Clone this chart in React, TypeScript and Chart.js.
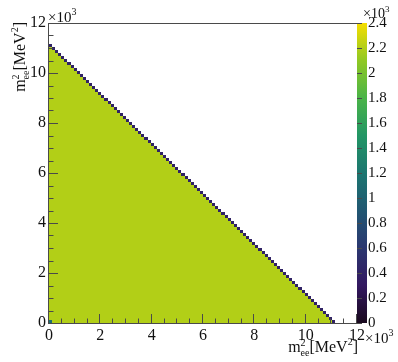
import React, { useEffect, useRef } from "react";
import { Chart, registerables } from "chart.js";

Chart.register(...registerables);

// Axis ranges (×10³ MeV²) and tick values
const AXIS_MIN = 0;
const AXIS_MAX = 12;
const X_TICK_STEP = 2;
const X_MINOR_STEP = 0.5;
const Y_TICK_STEP = 2;
// Colour (z) axis, entries per bin in units of 10³
const Z_MIN = 0;
const Z_MAX = 2.4;
const Z_TICK_LABELS = ["0", "0.2", "0.4", "0.6", "0.8", "1", "1.2", "1.4", "1.6", "1.8", "2", "2.2", "2.4"];

// Histogram description
const BINS_PER_AXIS = 100; // 100 x 100 bins over 0..12
const KINEMATIC_LIMIT = 11.1; // m²(ee) + m²(ee) upper boundary, ×10³ MeV²
const BULK_ENTRIES = 2.2; // typical bin content inside the triangle (×10³)
const EDGE_ENTRIES = 0.4; // partially covered bins on the diagonal (×10³)
const ORIGIN_ENTRIES = 1.1; // corner bin at the origin (×10³)

// ROOT kViridis palette stops
const VIRIDIS_R = [26, 51, 43, 33, 28, 35, 74, 144, 246];
const VIRIDIS_G = [9, 24, 55, 87, 118, 150, 180, 200, 222];
const VIRIDIS_B = [30, 96, 112, 114, 112, 101, 72, 35, 0];

const FONT = "\"Liberation Serif\", \"Times New Roman\", serif";
const TEXT_COLOR = "#111";
const FRAME_COLOR = "#4a4a4a";

function paletteColor(v: number): string {
  let t = (v - Z_MIN) / (Z_MAX - Z_MIN);
  t = Math.max(0, Math.min(1, t));
  const n = VIRIDIS_R.length - 1;
  const p = t * n;
  const i = Math.min(n - 1, Math.floor(p));
  const f = p - i;
  const r = Math.round(VIRIDIS_R[i] + (VIRIDIS_R[i + 1] - VIRIDIS_R[i]) * f);
  const g = Math.round(VIRIDIS_G[i] + (VIRIDIS_G[i + 1] - VIRIDIS_G[i]) * f);
  const b = Math.round(VIRIDIS_B[i] + (VIRIDIS_B[i + 1] - VIRIDIS_B[i]) * f);
  return `rgb(${r},${g},${b})`;
}

type Cell = { x: number; y: number; v: number };

function buildCells(): Cell[] {
  const w = (AXIS_MAX - AXIS_MIN) / BINS_PER_AXIS;
  const edge = Math.floor(KINEMATIC_LIMIT / w);
  const cells: Cell[] = [];
  for (let j = 0; j < BINS_PER_AXIS; j++) {
    for (let i = 0; i < BINS_PER_AXIS; i++) {
      const s = i + j;
      let v: number | null = null;
      if (s < edge) v = BULK_ENTRIES;
      else if (s === edge) v = EDGE_ENTRIES;
      if (i === 0 && j === 0) v = ORIGIN_ENTRIES;
      if (v !== null) cells.push({ x: AXIS_MIN + (i + 0.5) * w, y: AXIS_MIN + (j + 0.5) * w, v });
    }
  }
  return cells;
}

type Part = { t: string; size: number; dy: number; stackWith?: boolean };

function drawRich(ctx: CanvasRenderingContext2D, parts: Part[], x: number, y: number) {
  let cx = x;
  let prevW = 0;
  for (const p of parts) {
    ctx.font = `${p.size}px ${FONT}`;
    const w = ctx.measureText(p.t).width;
    if (p.stackWith) {
      cx -= prevW;
      ctx.fillText(p.t, cx, y + p.dy);
      cx += Math.max(w, prevW);
      prevW = Math.max(w, prevW);
    } else {
      ctx.fillText(p.t, cx, y + p.dy);
      cx += w;
      prevW = w;
    }
  }
  return cx - x;
}

function richWidth(ctx: CanvasRenderingContext2D, parts: Part[]) {
  let total = 0;
  let prevW = 0;
  for (const p of parts) {
    ctx.font = `${p.size}px ${FONT}`;
    const w = ctx.measureText(p.t).width;
    if (p.stackWith) {
      total += Math.max(0, w - prevW);
      prevW = Math.max(w, prevW);
    } else {
      total += w;
      prevW = w;
    }
  }
  return total;
}

const TITLE_PARTS: Part[] = [
  { t: "m", size: 16, dy: 0 },
  { t: "2", size: 10, dy: -6 },
  { t: "ee", size: 10, dy: 4, stackWith: true },
  { t: "[MeV", size: 16, dy: 0 },
  { t: "2", size: 10, dy: -7 },
  { t: "]", size: 16, dy: 0 },
];

const EXP_PARTS: Part[] = [
  { t: "\u00d710", size: 15, dy: 0 },
  { t: "3", size: 10, dy: -7 },
];

const COLORBAR_WIDTH = 10;

const heatmapPlugin = {
  id: "heatmap",
  beforeDatasetsDraw(chart: any) {
    const ctx: CanvasRenderingContext2D = chart.ctx;
    const xs = chart.scales.x;
    const ys = chart.scales.y;
    const w = (AXIS_MAX - AXIS_MIN) / BINS_PER_AXIS;
    const cells: Cell[] = chart.data.datasets[0].data;
    ctx.save();
    for (const c of cells) {
      const x0 = Math.round(xs.getPixelForValue(c.x - w / 2));
      const x1 = Math.round(xs.getPixelForValue(c.x + w / 2));
      const y0 = Math.round(ys.getPixelForValue(c.y + w / 2));
      const y1 = Math.round(ys.getPixelForValue(c.y - w / 2));
      ctx.fillStyle = paletteColor(c.v);
      ctx.fillRect(x0, y0, x1 - x0, y1 - y0);
    }
    ctx.restore();
  },
  afterDraw(chart: any) {
    const ctx: CanvasRenderingContext2D = chart.ctx;
    const { left, right, top, bottom } = chart.chartArea;
    const xs = chart.scales.x;
    const ys = chart.scales.y;
    const zs = chart.scales.z;
    ctx.save();

    // Colour bar
    const zTop = zs.getPixelForValue(Z_MAX);
    const zBot = zs.getPixelForValue(Z_MIN);
    const grad = ctx.createLinearGradient(0, zBot, 0, zTop);
    const n = VIRIDIS_R.length - 1;
    for (let i = 0; i <= n; i++) {
      grad.addColorStop(i / n, `rgb(${VIRIDIS_R[i]},${VIRIDIS_G[i]},${VIRIDIS_B[i]})`);
    }
    ctx.fillStyle = grad;
    ctx.fillRect(right, zTop, COLORBAR_WIDTH, zBot - zTop);

    // Frame
    ctx.strokeStyle = FRAME_COLOR;
    ctx.lineWidth = 1;
    ctx.beginPath();
    ctx.moveTo(left - 0.5, top + 0.5);
    ctx.lineTo(right, top + 0.5);
    ctx.moveTo(left - 0.5, top);
    ctx.lineTo(left - 0.5, bottom + 1);
    ctx.moveTo(left - 1, bottom + 0.5);
    ctx.lineTo(right, bottom + 0.5);
    ctx.stroke();

    // Inward tick marks
    ctx.beginPath();
    for (let v = AXIS_MIN; v <= AXIS_MAX + 1e-9; v += X_MINOR_STEP) {
      const major = Math.abs(v / X_TICK_STEP - Math.round(v / X_TICK_STEP)) < 1e-6;
      const len = major ? 9 : 4.5;
      const px = Math.round(xs.getPixelForValue(v)) - 0.5;
      ctx.moveTo(px, bottom);
      ctx.lineTo(px, bottom - len);
      const py = Math.round(ys.getPixelForValue(v)) + 0.5;
      ctx.moveTo(left, py);
      ctx.lineTo(left + len, py);
    }
    for (const t of zs.ticks) {
      const py = Math.round(zs.getPixelForValue(t.value)) + 0.5;
      ctx.moveTo(right, py);
      ctx.lineTo(right + 5, py);
    }
    ctx.stroke();

    // Texts
    ctx.fillStyle = TEXT_COLOR;
    ctx.textBaseline = "alphabetic";
    ctx.textAlign = "left";
    // ×10³ on y axis
    drawRich(ctx, EXP_PARTS, left - 1, top - 1);
    // ×10³ on x axis
    drawRich(ctx, EXP_PARTS, right + 8, bottom + 20);
    // ×10³ on colour axis
    drawRich(ctx, [{ t: "\u00d710", size: 14, dy: 0 }, { t: "3", size: 9, dy: -6 }], right + 6, zTop - 5);

    // X title, right aligned to the frame
    const tw = richWidth(ctx, TITLE_PARTS);
    drawRich(ctx, TITLE_PARTS, right + 1 - tw, 352);

    // Y title, rotated, ending at the top of the frame
    ctx.translate(25, top - 1);
    ctx.rotate(-Math.PI / 2);
    drawRich(ctx, TITLE_PARTS, -tw, 0);
    ctx.restore();
  },
};

export default function App() {
  const ref = useRef<HTMLCanvasElement | null>(null);
  useEffect(() => {
    if (!ref.current) return;
    const chart = new Chart(ref.current, {
      type: "scatter",
      data: {
        datasets: [
          {
            data: buildCells() as any,
            pointRadius: 0,
            pointHoverRadius: 0,
            showLine: false,
          },
        ],
      },
      options: {
        animation: false,
        responsive: false,
        maintainAspectRatio: false,
        devicePixelRatio: 1,
        events: [],
        layout: { padding: { top: 23, left: 0, right: 0, bottom: 0 } },
        plugins: { legend: { display: false }, tooltip: { enabled: false } },
        scales: {
          x: {
            type: "linear",
            position: "bottom",
            min: AXIS_MIN,
            max: AXIS_MAX,
            grid: { display: false, drawTicks: false },
            border: { display: false },
            ticks: {
              stepSize: X_TICK_STEP,
              padding: 3,
              color: TEXT_COLOR,
              font: { family: FONT, size: 16 },
              maxRotation: 0,
              autoSkip: false,
            },
            afterFit(scale: any) {
              scale.height = 39;
            },
          },
          y: {
            type: "linear",
            position: "left",
            min: AXIS_MIN,
            max: AXIS_MAX,
            grid: { display: false, drawTicks: false },
            border: { display: false },
            ticks: {
              stepSize: Y_TICK_STEP,
              padding: 3,
              color: TEXT_COLOR,
              font: { family: FONT, size: 16 },
              autoSkip: false,
            },
            afterFit(scale: any) {
              scale.width = 49;
            },
          },
          z: {
            type: "linear",
            position: "right",
            min: Z_MIN,
            max: Z_MAX,
            grid: { display: false, drawTicks: false },
            border: { display: false },
            ticks: {
              stepSize: 0.2,
              padding: 11,
              color: TEXT_COLOR,
              font: { family: FONT, size: 15 },
              autoSkip: false,
              callback: (_v: any, i: number) => Z_TICK_LABELS[i],
            },
            afterFit(scale: any) {
              scale.width = 41;
            },
          },
        },
      },
      plugins: [heatmapPlugin],
    } as any);
    return () => chart.destroy();
  }, []);
  return (
    <div style={{ position: "fixed", left: 0, top: 0, width: 398, height: 362, background: "#fff" }}>
      <canvas ref={ref} width={398} height={362} />
    </div>
  );
}
